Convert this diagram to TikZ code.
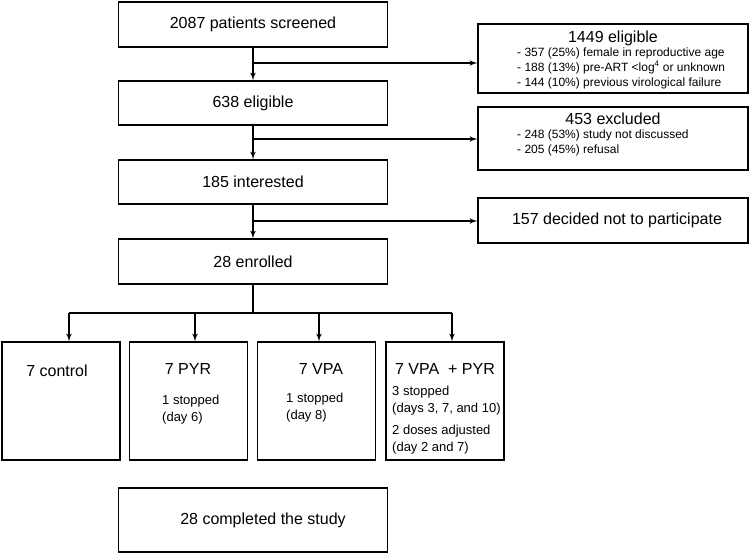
\documentclass[tikz,border=0pt]{standalone}
\usepackage{fontspec}
\setmainfont{Liberation Sans}
\usetikzlibrary{arrows}

\tikzset{
  box/.style={draw, line width=1.4pt, inner sep=0pt},
  mainbox/.style={box, minimum width=269pt, minimum height=44pt, font=\fontsize{16}{19}\selectfont},
  sidebox/.style={box, minimum width=270pt},
  grpbox/.style={box, minimum width=118pt, minimum height=118pt},
  headtxt/.style={font=\fontsize{16}{19}\selectfont, inner sep=0pt},
  listtxt/.style={font=\fontsize{12}{15}\selectfont, inner sep=0pt, align=left, anchor=west},
  grptxt/.style={font=\fontsize{13}{17}\selectfont, inner sep=0pt, align=left, anchor=west},
  flow/.style={line width=1.6pt}
}

\begin{document}
\begin{tikzpicture}[x=1pt, y=-1pt, >=latex']
\useasboundingbox (0,0) rectangle (750,555);

% main column
\node[mainbox, minimum height=45pt] (scr) at (253,24.5) {2087 patients screened};
\node[mainbox] (elig) at (253,103) {638 eligible};
\node[mainbox] (intr) at (253,182) {185 interested};
\node[mainbox, minimum height=45pt] (enr) at (253,261.5) {28 enrolled};
\node[mainbox, minimum height=64pt] (done) at (253,520) {\hspace{20pt}28 completed the study};

\draw[flow,->] (scr.south) -- (elig.north);
\draw[flow,->] (elig.south) -- (intr.north);
\draw[flow,->] (intr.south) -- (enr.north);

% side boxes
\node[sidebox, minimum height=69pt] (exc1) at (613,58.5) {};
\node[headtxt] (exc1t) at (613,38) {1449 eligible};
\node[listtxt] (exc1l) at (517,68) {- 357 (25\%) female in reproductive age\\
  - 188 (13\%) pre-ART <log\textsuperscript{4} or unknown\\
  - 144 (10\%) previous virological failure};

\node[sidebox, minimum height=63pt] (exc2) at (613,138.5) {};
\node[headtxt] (exc2t) at (613,119) {453 excluded};
\node[listtxt] (exc2l) at (517,142.5) {- 248 (53\%) study not discussed\\
  - 205 (45\%) refusal};

\node[sidebox, minimum height=45pt, font=\fontsize{16}{19}\selectfont] (exc3) at (613,220.5) {\hspace{8pt}157 decided not to participate};

\coordinate (j1) at (253,63);
\coordinate (j2) at (253,139);
\coordinate (j3) at (253,221);
\draw[flow,->] (j1) -- (j1 -| exc1.west);
\draw[flow,->] (j2) -- (j2 -| exc2.west);
\draw[flow,->] (j3) -- (j3 -| exc3.west);

% groups
\node[grpbox] (gA) at (61,401) {};
\node[grpbox] (gB) at (188.5,401) {};
\node[grpbox] (gC) at (316.5,401) {};
\node[grpbox] (gD) at (445,401) {};

\node[headtxt] (gAt) at (57,371) {7 control};
\node[headtxt] (gBt) at (188,369) {7 PYR};
\node[grptxt] (gBs) at (162,409.5) {1 stopped\\(day 6)};
\node[headtxt] (gCt) at (321,369) {7 VPA};
\node[grptxt] (gCs) at (286,407.5) {1 stopped\\(day 8)};
\node[headtxt] (gDt) at (445,369) {7 VPA\ \ + PYR};
\node[grptxt] (gDs1) at (392,400.5) {3 stopped\\(days 3, 7, and 10)};
\node[grptxt] (gDs2) at (392,439.5) {2 doses adjusted\\(day 2 and 7)};

\coordinate (split) at (253,313);
\coordinate (tA) at (69,313);
\coordinate (tB) at (195,313);
\coordinate (tC) at (319,313);
\coordinate (tD) at (452,313);
\draw[flow] (enr) -- (split);
\draw[flow] (tA) -- (tD);
\draw[flow,->] (tA) -- (tA |- gA.north);
\draw[flow,->] (tB) -- (tB |- gB.north);
\draw[flow,->] (tC) -- (tC |- gC.north);
\draw[flow,->] (tD) -- (tD |- gD.north);
\end{tikzpicture}
\end{document}
